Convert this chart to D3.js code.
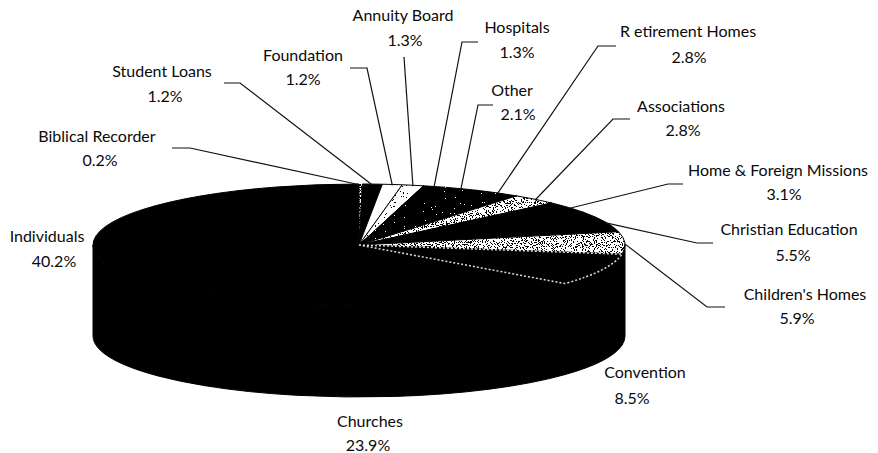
<!DOCTYPE html>
<html lang="en">
<head>
<meta charset="utf-8">
<script src="https://cdn.jsdelivr.net/npm/d3@7"></script>
<style>
  body { margin: 0; background: #fff; }
  text { font-family: Lato, "Open Sans", sans-serif; font-size: 16px; fill: #0a0a0a; }
</style>
</head>
<body>
<svg id="chart" width="878" height="453"></svg>
<script>
// ---------------------------------------------------------------
// Data (clockwise from 12 o'clock)
// ---------------------------------------------------------------
const categories = [
  "Biblical Recorder", "Student Loans", "Foundation", "Annuity Board",
  "Hospitals", "Other", "R etirement Homes", "Associations",
  "Home & Foreign Missions", "Christian Education", "Children's Homes",
  "Convention", "Churches", "Individuals"
];
const values = [0.2, 1.2, 1.2, 1.3, 1.3, 2.1, 2.8, 2.8, 3.1, 5.5, 5.9, 8.5, 23.9, 40.2];
const percentLabels = ["0.2%", "1.2%", "1.2%", "1.3%", "1.3%", "2.1%", "2.8%", "2.8%",
  "3.1%", "5.5%", "5.9%", "8.5%", "23.9%", "40.2%"];

// ---------------------------------------------------------------
// Styling / layout
// ---------------------------------------------------------------
// texture of each slice on the top face
const textures = ["stripe", "black", "white", "light", "darkdots", "darkdots", "darkdots",
  "grey", "black", "black", "grey", "outlined", "black", "black"];

// label placement: name centre/baseline, percent centre/baseline, leader tick [from, to, y]
const labelLayout = [
  { x: 97,  y: 142, px: 100, py: 166, tick: [172, 190, 148] },
  { x: 162, y: 77,  px: 165, py: 102, tick: [224, 240, 83] },
  { x: 303, y: 61,  px: 303, py: 85,  tick: [350, 367, 68] },
  { x: 403, y: 21,  px: 405, py: 46,  tick: [404, 404, 57] },
  { x: 517, y: 33,  px: 517, py: 58,  tick: [478, 462, 42] },
  { x: 512, y: 96,  px: 518, py: 120, tick: [493, 478, 105] },
  { x: 688, y: 37,  px: 689, py: 63,  tick: [616, 598, 46] },
  { x: 681, y: 112, px: 683, py: 136, tick: [630, 613, 119] },
  { x: 778, y: 176, px: 784, py: 200, tick: [683, 668, 184] },
  { x: 789, y: 235, px: 793, py: 261, tick: [713, 697, 243] },
  { x: 805, y: 300, px: 797, py: 324, tick: [725, 707, 307] },
  { x: 645, y: 378, px: 632, py: 404, tick: null },
  { x: 370, y: 427, px: 368, py: 451, tick: null },
  { x: 47,  y: 242, px: 54,  py: 267, tick: null }
];

const cx = 359, cy = 245, rx = 266, ry = 61, depth = 91;

const svg = d3.select("#chart");
svg.append("rect").attr("width", 878).attr("height", 453).attr("fill", "#fff");

// ---------------------------------------------------------------
// Speckle filters
// ---------------------------------------------------------------
const defs = svg.append("defs");
const addSpeckle = (id, threshold, white, seed) => {
  const n = 40;
  const table = d3.range(n).map(i => (i / n >= threshold ? 1 : 0)).join(" ");
  const f = defs.append("filter").attr("id", id)
    .attr("filterUnits", "userSpaceOnUse").attr("x", 0).attr("y", 0)
    .attr("width", 878).attr("height", 453);
  f.append("feTurbulence").attr("type", "fractalNoise").attr("baseFrequency", 0.9)
    .attr("numOctaves", 2).attr("seed", seed).attr("result", "noise");
  const c = white ? 1 : 0;
  f.append("feColorMatrix").attr("in", "noise").attr("type", "matrix")
    .attr("values", `0 0 0 0 ${c} 0 0 0 0 ${c} 0 0 0 0 ${c} 1 0 0 0 0`).attr("result", "a");
  f.append("feComponentTransfer").attr("in", "a").attr("result", "t")
    .append("feFuncA").attr("type", "discrete").attr("tableValues", table);
  f.append("feComposite").attr("in", "t").attr("in2", "SourceGraphic").attr("operator", "in");
};
addSpeckle("spk-light", 0.68, false, 3);
addSpeckle("spk-grey", 0.56, false, 5);
addSpeckle("spk-dark", 0.74, true, 7);
addSpeckle("spk-stripe", 0.5, false, 9);

// ---------------------------------------------------------------
// Geometry
// ---------------------------------------------------------------
const pie = d3.pie().sort(null).value(d => d);
const arcs = pie(values);

const rim = (a, dy = 0) => [cx + rx * Math.sin(a), cy - ry * Math.cos(a) + dy];

const topPath = s => {
  const p0 = rim(s.startAngle), p1 = rim(s.endAngle);
  const large = s.endAngle - s.startAngle > Math.PI ? 1 : 0;
  return `M${cx},${cy}L${p0}A${rx},${ry} 0 ${large} 1 ${p1}Z`;
};

const sidePath = s => {
  const a0 = Math.max(s.startAngle, Math.PI / 2);
  const a1 = Math.min(s.endAngle, 3 * Math.PI / 2);
  if (a1 <= a0) return null;
  const p0 = rim(a0), p1 = rim(a1), q0 = rim(a0, depth), q1 = rim(a1, depth);
  return `M${p0}A${rx},${ry} 0 0 1 ${p1}L${q1}A${rx},${ry} 0 0 0 ${q0}Z`;
};

// side walls
svg.append("g").selectAll("path")
  .data(arcs.filter(s => sidePath(s)))
  .join("path")
  .attr("d", sidePath)
  .attr("fill", "#000").attr("stroke", "#000").attr("stroke-width", 1);

// top face base fills
const baseFill = t => (t === "white" || t === "light" || t === "grey" || t === "stripe") ? "#fff" : "#000";
const topG = svg.append("g");
topG.selectAll("path.base")
  .data(arcs)
  .join("path")
  .attr("class", "base")
  .attr("d", topPath)
  .attr("fill", (d, i) => baseFill(textures[i]))
  .attr("stroke", "#000")
  .attr("stroke-width", (d, i) => textures[i] === "stripe" ? 0 : 1);

// speckle overlays
const filterFor = { light: "spk-light", grey: "spk-grey", darkdots: "spk-dark", stripe: "spk-stripe" };
topG.selectAll("path.speck")
  .data(arcs.filter((d, i) => filterFor[textures[i]]))
  .join("path")
  .attr("class", "speck")
  .attr("d", topPath)
  .attr("fill", "#000")
  .attr("filter", d => `url(#${filterFor[textures[d.index]]})`);

// outlined slice (dotted light edge on black)
topG.selectAll("path.outline")
  .data(arcs.filter((d, i) => textures[i] === "outlined"))
  .join("path")
  .attr("class", "outline")
  .attr("d", topPath)
  .attr("fill", "none")
  .attr("stroke", "#ddd")
  .attr("stroke-width", 1.5)
  .attr("stroke-dasharray", "2 2");

// ---------------------------------------------------------------
// Leader lines and labels
// ---------------------------------------------------------------
const leaders = svg.append("g").attr("fill", "none").attr("stroke", "#111").attr("stroke-width", 1.2);
arcs.forEach((s, i) => {
  const L = labelLayout[i];
  if (!L.tick) return;
  const mid = (s.startAngle + s.endAngle) / 2;
  const end = rim(mid, 1);
  const pts = [[L.tick[0], L.tick[2]], [L.tick[1], L.tick[2]], end];
  leaders.append("path").attr("d", d3.line()(pts));
});

const labels = svg.append("g").attr("text-anchor", "middle");
categories.forEach((name, i) => {
  const L = labelLayout[i];
  labels.append("text").attr("x", L.x).attr("y", L.y).text(name);
  labels.append("text").attr("x", L.px).attr("y", L.py).text(percentLabels[i]);
});
</script>
</body>
</html>
